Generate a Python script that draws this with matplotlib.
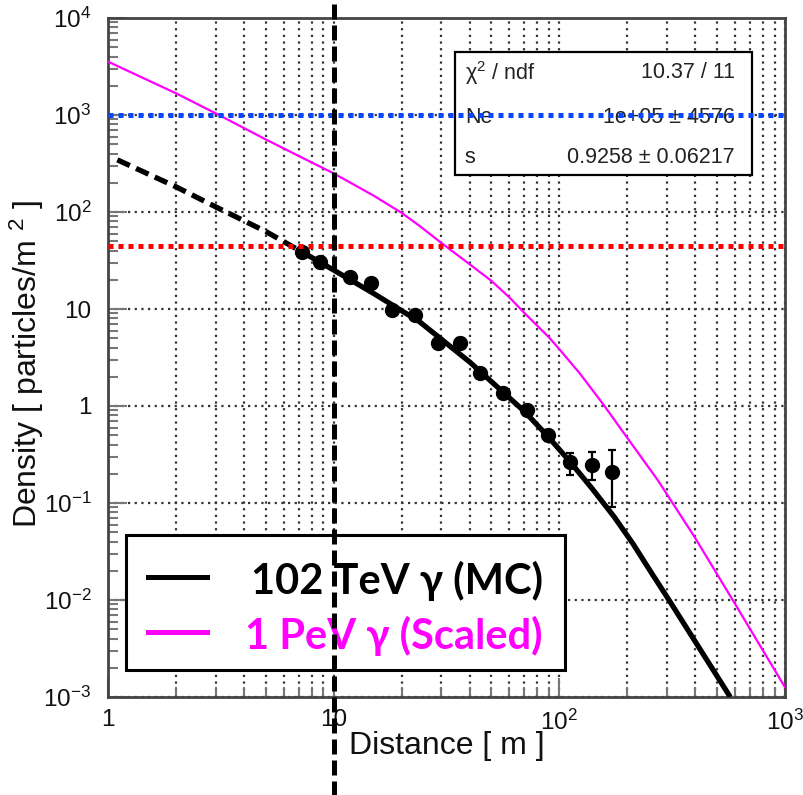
import matplotlib
matplotlib.use('Agg')
import matplotlib.pyplot as plt
from matplotlib.patches import Rectangle
from matplotlib.lines import Line2D
from matplotlib.ticker import FixedLocator, FixedFormatter, NullFormatter

plt.rcParams['font.family'] = ['Liberation Sans', 'DejaVu Sans']
plt.rcParams['mathtext.fontset'] = 'custom'
plt.rcParams['mathtext.rm'] = 'Liberation Sans'
plt.rcParams['mathtext.it'] = 'Liberation Sans:italic'
plt.rcParams['mathtext.default'] = 'regular'

# measured densities (102 TeV gamma, MC)
pt_r = [7.22, 8.70, 11.8, 14.7, 18.1, 22.9, 29.1, 36.3, 44.5, 56.4, 71.6, 89.3, 111, 139, 171]
pt_rho = [39.0, 30.5, 21.4, 18.4, 9.77, 8.67, 4.43, 4.50, 2.17, 1.35, 0.91, 0.50, 0.267, 0.246, 0.21]
pt_lo = [35.5, 27.6, 19.2, 16.4, 8.8, 7.7, 3.95, 4.0, 1.93, 1.2, 0.8, 0.44, 0.194, 0.173, 0.092]
pt_hi = [42.5, 33.5, 23.6, 20.4, 10.8, 9.7, 4.95, 5.0, 2.42, 1.5, 1.02, 0.57, 0.325, 0.338, 0.35]

# NKG fit, extrapolated part (dashed) and fitted part (solid)
fit_dash_r = [1.1, 2.0, 3.0, 5.0, 7.2]
fit_dash_rho = [345, 182, 113, 63, 39]
fit_r = [7.2, 10, 15, 24, 40, 70, 88, 111, 140, 175, 212, 260, 302, 572]
fit_rho = [39, 25.2, 14.5, 7.4, 2.85, 0.88, 0.5, 0.27, 0.14, 0.072, 0.038, 0.018, 0.0105, 0.001]

# 1 PeV gamma (scaled)
pev_r = [1, 2, 3, 5, 7.1, 10, 15, 20, 24, 30, 40, 50, 60, 70, 90, 100, 123, 157, 200, 274, 399, 588, 1000]
pev_rho = [3550, 1675, 1040, 560, 372, 250, 148, 98, 72, 48, 29, 19.5, 13.2, 9.1, 5.1, 3.85, 2.18,
           1.03, 0.47, 0.17, 0.044, 0.0099, 0.00126]

blue_level = 1000
red_level = 45
r_cut = 10

stat_names = [r'$\chi^{2}$ / ndf', 'Ne', 's']
stat_values = ['10.37 / 11', '1e+05 \u00b1 4576', '0.9258 \u00b1 0.06217']

legend_labels = ['102 TeV \u03b3 (MC)', '1 PeV \u03b3 (Scaled)']
legend_colors = ['black', '#ff00ff']

x_ticks = [1, 10, 100, 1000]
x_ticklabels = ['1', '10', r'$10^{2}$', r'$10^{3}$']
y_ticks = [1e-3, 1e-2, 1e-1, 1, 10, 100, 1000, 1e4]
y_ticklabels = [r'$10^{-3}$', r'$10^{-2}$', r'$10^{-1}$', '1', '10', r'$10^{2}$', r'$10^{3}$', r'$10^{4}$']

fig = plt.figure(figsize=(8.04, 7.95), dpi=100)
ax = fig.add_axes([108 / 804, 1 - 697 / 795, 677 / 804, 679 / 795])
ax.set_xscale('log')
ax.set_yscale('log')
ax.set_xlim(1, 1000)
ax.set_ylim(1e-3, 1e4)

minor_x = [m * 10 ** d for d in range(0, 3) for m in range(2, 10)]
minor_y = [m * 10.0 ** d for d in range(-3, 4) for m in range(2, 10)]
ax.xaxis.set_major_locator(FixedLocator(x_ticks))
ax.xaxis.set_major_formatter(FixedFormatter(x_ticklabels))
ax.xaxis.set_minor_locator(FixedLocator(minor_x))
ax.xaxis.set_minor_formatter(NullFormatter())
ax.yaxis.set_major_locator(FixedLocator(y_ticks))
ax.yaxis.set_major_formatter(FixedFormatter(y_ticklabels))
ax.yaxis.set_minor_locator(FixedLocator(minor_y))
ax.yaxis.set_minor_formatter(NullFormatter())

ax.tick_params(which='major', direction='in', length=14, width=1.5, color='#777777',
               labelsize=17.5, labelcolor='#111111', top=False, right=False)
ax.tick_params(which='minor', direction='in', length=7, width=1.5, color='#777777',
               top=False, right=False)
ax.tick_params(axis='y', which='major', pad=12)
ax.tick_params(axis='x', which='major', pad=9)

for sp in ax.spines.values():
    sp.set_color('#444444')
    sp.set_linewidth(2)

ax.set_axisbelow(True)
gstyle = dict(linestyle=(0, (1, 2)), linewidth=1.6, color='#333333')
ax.grid(True, which='both', axis='x', **gstyle)
ax.grid(True, which='major', axis='y', **gstyle)

ax.plot(pev_r, pev_rho, color='#ff00ff', lw=1.6, zorder=3)
ax.plot(fit_dash_r, fit_dash_rho, color='black', lw=3.8, linestyle=(0, (2.6, 1.3)),
        dash_capstyle='butt', zorder=3)
ax.plot(fit_r, fit_rho, color='black', lw=3.8, solid_capstyle='butt', zorder=3)

yerr = [[v - lo for v, lo in zip(pt_rho, pt_lo)], [hi - v for v, hi in zip(pt_rho, pt_hi)]]
ax.errorbar(pt_r, pt_rho, yerr=yerr, fmt='o', color='black', ms=10, elinewidth=1.6,
            capsize=3, capthick=1.6, zorder=3)

# stats box
ax.add_patch(Rectangle((0.5126, 0.7688), 0.4387, 0.1812, transform=ax.transAxes,
                       facecolor='white', edgecolor='black', lw=1.6, zorder=4))
for yy, name, val in zip([0.919, 0.854, 0.795], stat_names, stat_values):
    ax.text(0.527, yy, name, transform=ax.transAxes, fontsize=15.5, color='#222222',
            ha='left', va='center', zorder=4.5)
    ax.text(0.926, yy, val, transform=ax.transAxes, fontsize=15.5, color='#222222',
            ha='right', va='center', zorder=4.5)

ax.axhline(blue_level, color='#0a46ff', lw=3.6, linestyle=(0, (1, 1)), zorder=5)
ax.axhline(red_level, color='#ff0000', lw=3.6, linestyle=(0, (1, 1)), zorder=5)

# legend box
ax.add_patch(Rectangle((0.0266, 0.0398), 0.6484, 0.1988, transform=ax.transAxes,
                       facecolor='white', edgecolor='black', lw=2.2, zorder=4))
for yy, lab, col in zip([0.1767, 0.0957], legend_labels, legend_colors):
    ax.add_line(Line2D([0.059, 0.1462], [yy, yy], transform=ax.transAxes, color=col,
                       lw=3.6, zorder=4.5))
    ax.text(0.6425, yy, lab, transform=ax.transAxes, fontsize=30, fontweight='bold',
            color=col, ha='right', va='center_baseline', family=['Lato', 'DejaVu Sans'],
            zorder=4.5)

ax.axvline(r_cut, ymin=-0.15, ymax=1.03, color='black', lw=3.6, linestyle=(0, (3, 1.2)),
           clip_on=False, zorder=6)

ax.set_xlabel('Distance [ m ]', fontsize=23, color='#111111')
ax.xaxis.set_label_coords(0.5, -(746 - 697) / 679)
ax.xaxis.label.set_va('center')
ax.set_ylabel(r'Density [ particles/m $^{2}$ ]', fontsize=23, color='#111111')
ax.yaxis.set_label_coords(-(108 - 27) / 677, 0.49)
ax.yaxis.label.set_va('center')

fig.savefig('out.png', dpi=100)
